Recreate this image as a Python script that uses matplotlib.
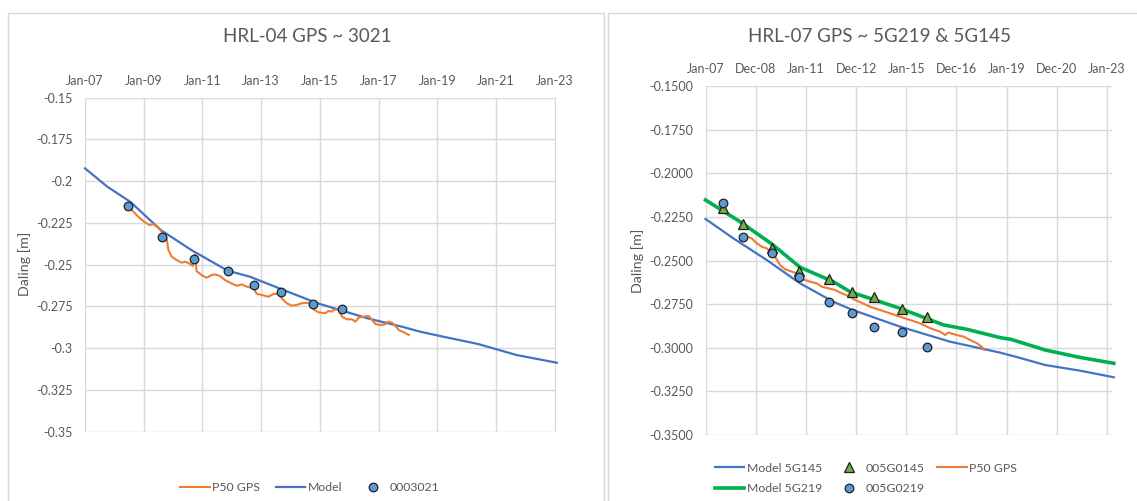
import matplotlib
matplotlib.use("Agg")
import matplotlib.pyplot as plt
from matplotlib.patches import Rectangle

plt.rcParams['font.family'] = ['Lato', 'DejaVu Sans']

# ---- HRL-04 (left) ----
hrl04_title = "HRL-04 GPS ~ 3021"
hrl04_xlabels = ["Jan-07", "Jan-09", "Jan-11", "Jan-13", "Jan-15", "Jan-17", "Jan-19", "Jan-21", "Jan-23"]
hrl04_yticks = [-0.15, -0.175, -0.2, -0.225, -0.25, -0.275, -0.3, -0.325, -0.35]
hrl04_ylabels = ["-0.15", "-0.175", "-0.2", "-0.225", "-0.25", "-0.275", "-0.3", "-0.325", "-0.35"]

model04_t = [2007.0, 2007.76, 2008.54, 2009.58, 2010.62, 2011.86, 2012.62, 2013.75, 2014.92,
             2016.62, 2017.79, 2018.41, 2019.09, 2020.39, 2021.7, 2023.07]
model04_v = [-0.1923, -0.2033, -0.2123, -0.2292, -0.2412, -0.2536, -0.2572, -0.2651, -0.2731,
             -0.2821, -0.2871, -0.2901, -0.2927, -0.2975, -0.3041, -0.3087]

gps04_t = [2008.48, 2008.65, 2008.87, 2009.04, 2009.19, 2009.33, 2009.50, 2009.61, 2009.78, 2009.84,
           2009.95, 2010.12, 2010.29, 2010.41, 2010.55, 2010.67, 2010.71, 2010.75, 2010.80, 2010.97,
           2011.14, 2011.31, 2011.43, 2011.60, 2011.77, 2011.99, 2012.17, 2012.34, 2012.51, 2012.74,
           2012.85, 2013.02, 2013.25, 2013.42, 2013.59, 2013.70, 2013.87, 2014.04, 2014.21, 2014.38,
           2014.55, 2014.72, 2014.78, 2014.95, 2015.18, 2015.29, 2015.41, 2015.46, 2015.63, 2015.75,
           2015.92, 2016.09, 2016.21, 2016.32, 2016.49, 2016.66, 2016.78, 2016.89, 2017.06, 2017.23,
           2017.31, 2017.46, 2017.57, 2017.69, 2017.86, 2018.03]
gps04_v = [-0.2153, -0.2183, -0.2222, -0.2246, -0.2262, -0.2258, -0.2278, -0.2302, -0.2342, -0.2412,
           -0.2452, -0.2472, -0.2488, -0.2482, -0.2492, -0.2508, -0.2452, -0.2438, -0.2538, -0.2562,
           -0.2578, -0.2562, -0.2558, -0.2568, -0.2592, -0.2612, -0.2626, -0.2618, -0.2632, -0.2641,
           -0.2675, -0.2681, -0.2692, -0.2675, -0.2675, -0.2701, -0.2731, -0.2745, -0.2741, -0.2731,
           -0.2728, -0.2736, -0.2767, -0.2785, -0.2791, -0.2777, -0.2781, -0.2771, -0.2767, -0.2811,
           -0.2827, -0.2827, -0.2841, -0.2817, -0.2811, -0.2807, -0.2831, -0.2855, -0.2861, -0.2857,
           -0.2841, -0.2847, -0.2867, -0.2891, -0.2905, -0.2921]

pt3021_t = [2008.48, 2009.63, 2010.71, 2011.86, 2012.77, 2013.67, 2014.75, 2015.76]
pt3021_v = [-0.2148, -0.2336, -0.2468, -0.2538, -0.2623, -0.2665, -0.2737, -0.2767]

# ---- HRL-07 (right) ----
hrl07_title = "HRL-07 GPS ~ 5G219 & 5G145"
hrl07_xlabels = ["Jan-07", "Dec-08", "Jan-11", "Dec-12", "Jan-15", "Dec-16", "Jan-19", "Dec-20", "Jan-23"]
hrl07_yticks = [-0.15, -0.175, -0.2, -0.225, -0.25, -0.275, -0.3, -0.325, -0.35]
hrl07_ylabels = ["%.4f" % v for v in hrl07_yticks]

m145_t = [2007.0, 2008.11, 2009.44, 2010.77, 2012.09, 2012.8, 2014.75, 2016.74, 2018.74,
          2019.45, 2020.54, 2021.91, 2023.27]
m145_v = [-0.2262, -0.2373, -0.2497, -0.2631, -0.2736, -0.2780, -0.2879, -0.2965, -0.3028,
          -0.3055, -0.3099, -0.3131, -0.3169]

m219_t = [2007.0, 2008.38, 2009.64, 2010.77, 2012.09, 2012.76, 2014.75, 2016.48, 2017.41,
          2018.74, 2019.18, 2020.54, 2021.91, 2023.27]
m219_v = [-0.2153, -0.2278, -0.2405, -0.2539, -0.2621, -0.2679, -0.2774, -0.2869, -0.2894,
          -0.2942, -0.2952, -0.3013, -0.3055, -0.3089]

gps07_t = [2008.64, 2008.84, 2009.04, 2009.24, 2009.44, 2009.77, 2009.97, 2010.17, 2010.44, 2010.63,
           2010.90, 2011.16, 2011.43, 2011.63, 2011.89, 2012.16, 2012.43, 2012.69, 2012.96, 2013.16,
           2013.56, 2013.96, 2014.36, 2014.75, 2015.15, 2015.55, 2015.95, 2016.35, 2016.55, 2016.68,
           2017.01, 2017.28, 2017.54, 2017.81, 2018.01, 2018.11]
gps07_v = [-0.2363, -0.2373, -0.2401, -0.2421, -0.2430, -0.2478, -0.2526, -0.2550, -0.2564, -0.2573,
           -0.2608, -0.2621, -0.2631, -0.2650, -0.2659, -0.2669, -0.2688, -0.2703, -0.2726, -0.2738,
           -0.2765, -0.2784, -0.2803, -0.2822, -0.2841, -0.2860, -0.2888, -0.2908, -0.2927, -0.2913,
           -0.2927, -0.2936, -0.2955, -0.2974, -0.2994, -0.3013]

pt145_t = [2007.71, 2008.48, 2009.64, 2010.73, 2011.91, 2012.83, 2013.73, 2014.82, 2015.84]
pt145_v = [-0.2201, -0.2293, -0.2427, -0.2558, -0.2608, -0.2682, -0.2707, -0.2780, -0.2825]

pt219_t = [2007.71, 2008.48, 2009.64, 2010.73, 2011.91, 2012.83, 2013.73, 2014.82, 2015.84]
pt219_v = [-0.2172, -0.2367, -0.2459, -0.2596, -0.2740, -0.2799, -0.2879, -0.2911, -0.2996]

x_ticks = [2007, 2009, 2011, 2013, 2015, 2017, 2019, 2021, 2023]

BLUE = '#4472C4'
ORANGE = '#ED7D31'
GREEN = '#00B050'
TRI = '#70AD47'
DOT = '#5B9BD5'
TXT = '#595959'
GRID = '#D9D9D9'

W, H = 1137, 501
fig = plt.figure(figsize=(W / 100, H / 100), dpi=100)

# chart frames
fig.patches.append(Rectangle((7.5 / W, -0.05), (604 - 7.5) / W, 1 - 12.5 / H + 0.05,
                             transform=fig.transFigure, fill=False, ec=GRID, lw=1))
fig.patches.append(Rectangle((607.5 / W, -0.05), 0.5, 1 - 12.5 / H + 0.05,
                             transform=fig.transFigure, fill=False, ec=GRID, lw=1))


def style_axes(ax, xlabels, yticks, ylabels, xmax):
    ax.set_xlim(2007, xmax)
    ax.set_ylim(-0.35, -0.15)
    ax.set_xticks(x_ticks)
    ax.set_xticklabels(xlabels)
    ax.set_yticks(yticks)
    ax.set_yticklabels(ylabels)
    ax.xaxis.tick_top()
    ax.tick_params(axis='x', length=0, pad=8, labelsize=9, labelcolor=TXT)
    ax.tick_params(axis='y', length=0, pad=9, labelsize=9, labelcolor=TXT)
    ax.grid(True, color=GRID, lw=1)
    ax.set_axisbelow(True)
    for s in ax.spines.values():
        s.set_visible(False)


# left chart
ax1 = fig.add_axes([85 / W, 1 - 431.7 / H, 470.7 / W, 334 / H])
style_axes(ax1, hrl04_xlabels, hrl04_yticks, hrl04_ylabels, 2023.03)
l_gps, = ax1.plot(gps04_t, gps04_v, color=ORANGE, lw=1.5, label='P50 GPS', zorder=3)
l_mod, = ax1.plot(model04_t, model04_v, color=BLUE, lw=1.6, label='Model', zorder=2, clip_on=False)
l_pt, = ax1.plot(pt3021_t, pt3021_v, 'o', ms=6.2, mfc=DOT, mec='#1f1f1f', mew=0.9,
                 label='0003021', zorder=4)
fig.text(307 / W, 1 - 37 / H, hrl04_title, ha='center', va='center', fontsize=13.5, color=TXT)
fig.text(25 / W, 1 - 264 / H, 'Daling [m]', rotation=90, ha='center', va='center',
         fontsize=10.3, color=TXT)
fig.legend(handles=[l_gps, l_mod, l_pt], loc='center', bbox_to_anchor=(310 / W, 1 - 487.5 / H),
           ncol=3, frameon=False, fontsize=8.8, handlelength=2.4, handletextpad=0.2,
           columnspacing=1.3, labelcolor=TXT, borderpad=0)

# right chart
ax2 = fig.add_axes([705.5 / W, 1 - 435 / H, 406.5 / W, 349 / H])
style_axes(ax2, hrl07_xlabels, hrl07_yticks, hrl07_ylabels, 2023.2)
r_m145, = ax2.plot(m145_t, m145_v, color=BLUE, lw=1.6, label='Model 5G145', zorder=2, clip_on=False)
r_m219, = ax2.plot(m219_t, m219_v, color=GREEN, lw=2.6, label='Model 5G219', zorder=2, clip_on=False)
r_gps, = ax2.plot(gps07_t, gps07_v, color=ORANGE, lw=1.5, label='P50 GPS', zorder=3)
r_145, = ax2.plot(pt145_t, pt145_v, '^', ms=6.5, mfc=TRI, mec='#1f1f1f', mew=0.9,
                  label='005G0145', zorder=4)
r_219, = ax2.plot(pt219_t, pt219_v, 'o', ms=6.2, mfc=DOT, mec='#1f1f1f', mew=0.9,
                  label='005G0219', zorder=5)
fig.text(879 / W, 1 - 37 / H, hrl07_title, ha='center', va='center', fontsize=13.5, color=TXT)
fig.text(638 / W, 1 - 261 / H, 'Daling [m]', rotation=90, ha='center', va='center',
         fontsize=10.3, color=TXT)
fig.legend(handles=[r_m145, r_m219, r_145, r_219, r_gps], loc='center',
           bbox_to_anchor=(866 / W, 1 - 478.5 / H), ncol=3, frameon=False, fontsize=8.8,
           handlelength=2.4, handletextpad=0.2, columnspacing=1.0, labelcolor=TXT,
           borderpad=0, labelspacing=0.8)

fig.savefig('out.png', dpi=100)
